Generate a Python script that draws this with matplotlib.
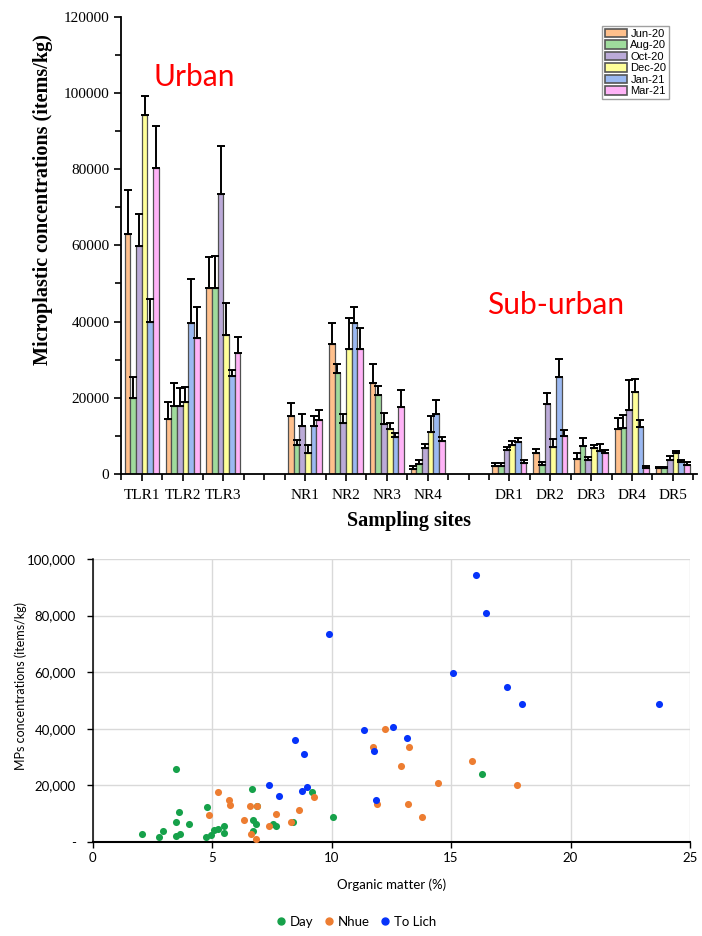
import matplotlib
matplotlib.use("Agg")
import matplotlib.pyplot as plt
import numpy as np
from matplotlib.ticker import MultipleLocator, FixedLocator, FuncFormatter
from matplotlib.patches import Patch
from matplotlib.lines import Line2D

# ---------------- data: top chart ----------------
site_groups = [["TLR1", "TLR2", "TLR3"],
               ["NR1", "NR2", "NR3", "NR4"],
               ["DR1", "DR2", "DR3", "DR4", "DR5"]]
months = ["Jun-20", "Aug-20", "Oct-20", "Dec-20", "Jan-21", "Mar-21"]

# values per month, site order: TLR1..3, NR1..4, DR1..5
jun20 = [63000, 14400, 48700, 15300, 34200, 24000, 1400, 2100, 5600, 3900, 11700, 1500]
aug20 = [20000, 17900, 48700, 7600, 26500, 20600, 2500, 2100, 2400, 7300, 12000, 1500]
oct20 = [59900, 17900, 73500, 12700, 13500, 13100, 6700, 6300, 18300, 3700, 16800, 3800]
dec20 = [94200, 19000, 36600, 5600, 32700, 11700, 11100, 7600, 7000, 6800, 21500, 5400]
jan21 = [39800, 39700, 25700, 12500, 39500, 9600, 15700, 8500, 25400, 6100, 12400, 3200]
mar21 = [80400, 35600, 31700, 14200, 32800, 17500, 8700, 2800, 9900, 5400, 1500, 2400]

jun20_err = [11500, 4400, 8300, 3300, 5400, 4900, 700, 700, 900, 1500, 2900, 400]
aug20_err = [5400, 6100, 8600, 1300, 2300, 2400, 1200, 700, 800, 2100, 3400, 400]
oct20_err = [8200, 4600, 12600, 3000, 2200, 2900, 1300, 700, 3000, 800, 7900, 900]
dec20_err = [5100, 3900, 8300, 2000, 8200, 1600, 4100, 1100, 2100, 800, 3300, 700]
jan21_err = [6100, 11600, 1600, 2600, 4300, 1100, 3700, 1000, 4700, 1800, 1900, 600]
mar21_err = [10900, 8200, 4300, 2600, 5600, 4500, 1100, 900, 1600, 900, 600, 700]

# ---------------- data: bottom chart ----------------
day_om = [2.09, 2.77, 2.95, 3.5, 3.6, 3.48, 3.5, 3.66, 4.03, 4.81, 4.76, 4.97, 5.07,
          5.24, 5.49, 5.52, 6.68, 6.71, 6.85, 6.71, 6.9, 7.56, 7.66, 8.37, 9.2, 10.05, 16.28]
day_mp = [3000, 1800, 3900, 25900, 10500, 7100, 2000, 3000, 6400, 12200, 1800, 2600, 4100,
          4600, 3200, 5800, 18700, 7700, 6400, 3800, 12700, 6400, 5600, 7000, 17600, 8800, 24000]
nhue_om = [5.27, 5.72, 5.77, 4.89, 6.58, 6.9, 6.32, 6.63, 6.85, 7.38, 7.69, 8.32, 8.62,
           9.28, 11.75, 11.9, 12.23, 12.9, 13.26, 13.2, 13.78, 14.44, 15.88, 17.77]
nhue_mp = [17500, 14800, 13100, 9600, 12700, 12700, 7800, 2700, 1200, 5800, 9900, 7000, 11200,
           15900, 33400, 13300, 40100, 26700, 33400, 13600, 8800, 20700, 28600, 20200]
tolich_om = [16.03, 16.46, 9.88, 15.09, 17.34, 17.95, 23.7, 11.34, 12.57, 13.15, 8.47, 8.85,
             11.77, 7.39, 7.82, 8.75, 8.97, 11.87]
tolich_mp = [94200, 80900, 73600, 59700, 54800, 48600, 48800, 39700, 40600, 36800, 36000, 31000,
             32000, 20000, 16300, 18100, 19300, 15000]

series_vals = [jun20, aug20, oct20, dec20, jan21, mar21]
series_errs = [jun20_err, aug20_err, oct20_err, dec20_err, jan21_err, mar21_err]
bar_colors = ["#FFC08C", "#9FDB9C", "#BBAAD8", "#FFFF99", "#9BB9F2", "#FFB3F7"]

W, H = 702, 936
fig = plt.figure(figsize=(W / 100, H / 100), dpi=100)

# ---------------- top chart ----------------
serif = ["Liberation Serif", "DejaVu Serif"]
ax1 = fig.add_axes([121.3 / W, 1 - 474 / H, 576 / W, (474 - 16.7) / H])

# category positions with one empty slot between groups
sites, pos = [], []
p = 1
for g in site_groups:
    for s in g:
        sites.append(s)
        pos.append(p)
        p += 1
    p += 1
pos = np.array(pos, dtype=float)

bw = 0.139
for i, (vals, errs, col, m) in enumerate(zip(series_vals, series_errs, bar_colors, months)):
    x = pos + (i - 2.5) * bw
    ax1.bar(x, vals, width=bw, color=col, edgecolor="#505050", linewidth=0.9, label=m, zorder=2)
    ax1.errorbar(x, vals, yerr=[np.zeros(len(vals)), errs], fmt="none", ecolor="black",
                 elinewidth=1.4, capsize=2.8, capthick=1.4, zorder=3)

ax1.set_xlim(0.5, 14.6)
ax1.set_ylim(0, 120000)
ax1.spines["top"].set_visible(False)
ax1.spines["right"].set_visible(False)
for sp in ["left", "bottom"]:
    ax1.spines[sp].set_linewidth(1.3)
ax1.xaxis.set_major_locator(FixedLocator(pos))
ax1.set_xticklabels(sites, fontfamily=serif, fontsize=11)
ax1.xaxis.set_minor_locator(FixedLocator(np.arange(0.5, 14.6, 0.5)))
ax1.yaxis.set_major_locator(MultipleLocator(20000))
ax1.yaxis.set_minor_locator(MultipleLocator(10000))
ax1.tick_params(axis="both", which="major", direction="out", length=5, width=1.2)
ax1.tick_params(axis="both", which="minor", direction="out", length=4, width=1.2)
ax1.tick_params(axis="x", pad=6)
for lab in ax1.get_yticklabels():
    lab.set_fontfamily(serif)
    lab.set_fontsize(11)
ax1.set_ylabel("Microplastic concentrations (items/kg)", fontfamily=serif, fontsize=14.5,
               fontweight="bold")
ax1.yaxis.set_label_coords(-0.118, (474 - 200) / (474 - 16.7))
ax1.set_xlabel("Sampling sites", fontfamily=serif, fontsize=14.5, fontweight="bold", labelpad=6)

handles = [Patch(facecolor=c, edgecolor="#555555", linewidth=1.2, label=m)
           for c, m in zip(bar_colors, months)]
leg = ax1.legend(handles=handles, loc="upper left", bbox_to_anchor=(602 / W, 1 - 26 / H),
                 bbox_transform=fig.transFigure, frameon=True, fancybox=False,
                 edgecolor="#888888", borderpad=0.25, labelspacing=0.12, handlelength=2.0,
                 handleheight=0.8, handletextpad=0.3, borderaxespad=0,
                 prop={"family": ["Liberation Sans", "DejaVu Sans"], "size": 8})
leg.get_frame().set_linewidth(1.0)

fig.text(194 / W, 1 - 77 / H, "Urban", color="red", fontsize=21.5,
         family=["Lato", "DejaVu Sans"], ha="center", va="center")
fig.text(556 / W, 1 - 305 / H, "Sub-urban", color="red", fontsize=21.5,
         family=["Lato", "DejaVu Sans"], ha="center", va="center")

# ---------------- bottom chart ----------------
sans = ["Lato", "DejaVu Sans"]
ax2 = fig.add_axes([92.5 / W, 1 - 842 / H, 597.5 / W, 283 / H])
ax2.scatter(day_om, day_mp, s=26, color="#16A14A", zorder=3, linewidths=0)
ax2.scatter(nhue_om, nhue_mp, s=26, color="#ED7D31", zorder=3, linewidths=0)
ax2.scatter(tolich_om, tolich_mp, s=26, color="#0633FA", zorder=3, linewidths=0)
ax2.set_xlim(0, 25)
ax2.set_ylim(0, 100000)
ax2.xaxis.set_major_locator(MultipleLocator(5))
ax2.yaxis.set_major_locator(MultipleLocator(20000))
ax2.yaxis.set_major_formatter(FuncFormatter(lambda v, _: "-" if v == 0 else f"{int(v):,}"))
ax2.grid(True, color="#D9D9D9", linewidth=1.0, zorder=0)
ax2.set_axisbelow(True)
ax2.spines["top"].set_visible(False)
ax2.spines["right"].set_visible(False)
ax2.spines["left"].set_linewidth(1.1)
ax2.spines["bottom"].set_linewidth(1.5)
ax2.tick_params(axis="both", direction="out", length=4, width=1.0, labelsize=9.5)
for lab in ax2.get_xticklabels() + ax2.get_yticklabels():
    lab.set_fontfamily(sans)
ax2.tick_params(axis="y", pad=8)
ax2.set_xlabel("Organic matter (%)", fontfamily=sans, fontsize=9.5, labelpad=10)
ax2.set_ylabel("MPs concentrations (items/kg)", fontfamily=sans, fontsize=9)
ax2.yaxis.set_label_coords(-0.11, (842 - 686) / 283)

lh = [Line2D([], [], marker="o", linestyle="none", markersize=5, color=c, label=l)
      for c, l in zip(["#16A14A", "#ED7D31", "#0633FA"], ["Day", "Nhue", "To Lich"])]
fig.legend(handles=lh, loc="center", bbox_to_anchor=(356 / W, 1 - 922 / H), ncol=3,
           frameon=False, handletextpad=0.25, columnspacing=0.8, handlelength=0.8,
           prop={"family": sans, "size": 9.5})

fig.savefig("out.png", dpi=100)
